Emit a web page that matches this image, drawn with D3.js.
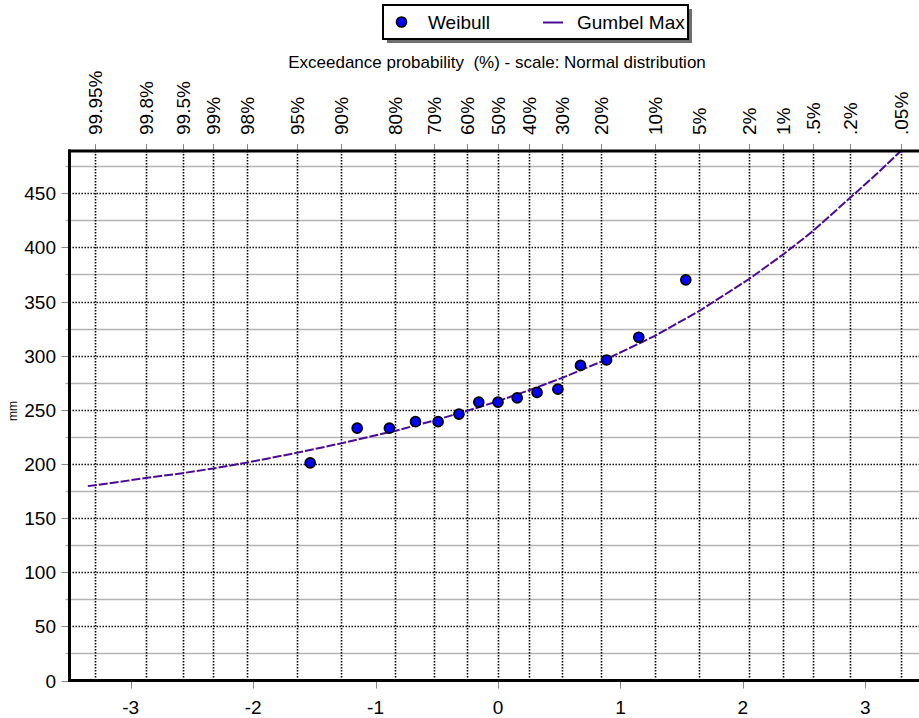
<!DOCTYPE html>
<html>
<head>
<meta charset="utf-8">
<script src="https://cdn.jsdelivr.net/npm/d3@7"></script>
<style>
  html, body { margin: 0; padding: 0; background: #fff; }
  svg { display: block; font-family: Arial, "Liberation Sans", sans-serif; }
</style>
</head>
<body>
<svg id="chart" width="919" height="718"></svg>
<script>
// ---- data ----
const probLabels = ["99.95%","99.8%","99.5%","99%","98%","95%","90%","80%","70%","60%","50%","40%","30%","20%","10%","5%","2%","1%",".5%",".2%",".05%"];
const probZ = [-3.2905,-2.8782,-2.5758,-2.3263,-2.0537,-1.6449,-1.2816,-0.8416,-0.5244,-0.2533,0,0.2533,0.5244,0.8416,1.2816,1.6449,2.0537,2.3263,2.5758,2.8782,3.2905];
const bottomTicks = [-3,-2,-1,0,1,2,3];
const yMajorTicks = [0,50,100,150,200,250,300,350,400,450];
const yMinorTicks = [25,75,125,175,225,275,325,375,425,475];

const weibullZ  = [-1.534,-1.150,-0.887,-0.674,-0.489,-0.319,-0.157,0,0.157,0.319,0.489,0.674,0.887,1.150,1.534];
const weibullMm = [201,233,233,239,239,246,257,257,261,266,269,291,296,317,370];

const gumbelZ  = [-3.35,-3.09,-2.878,-2.576,-2.326,-2.054,-1.645,-1.282,-0.842,-0.524,-0.253,0,0.253,0.524,0.842,1.282,1.645,2.054,2.326,2.576,2.878,3.09,3.29];
const gumbelMm = [179.5,183.5,187,191.5,195.8,201.2,210.2,219,230.5,240,249,258,268,279.5,294.4,318.3,341.3,371,393.2,415.4,446,467.5,489];

const legendItems = ["Weibull","Gumbel Max"];
const titleText = "Exceedance probability  (%) - scale: Normal distribution";
const yLabel = "mm";

// ---- layout ----
const svg = d3.select("#chart");
const L = 69.5, R = 926.5, T = 151, B = 680.5;
const x = d3.scaleLinear().domain([-3.5, 3.5]).range([L, R]);
const y = d3.scaleLinear().domain([0, 489]).range([B, T]);
const indigo = "#4b0a96";

svg.append("defs").append("clipPath").attr("id","clip")
  .append("rect").attr("x", L).attr("y", T).attr("width", R - L).attr("height", B - T);

const plot = svg.append("g");

// minor horizontal gray lines
plot.selectAll("line.minor").data(yMinorTicks).join("line")
  .attr("x1", L - 4).attr("x2", R)
  .attr("y1", d => Math.round(y(d)) + 0.5).attr("y2", d => Math.round(y(d)) + 0.5)
  .attr("stroke", "#b4b4b4").attr("stroke-width", 1.5);

// major dotted horizontal lines
plot.selectAll("line.major").data(yMajorTicks.filter(d => d > 0)).join("line")
  .attr("x1", L).attr("x2", R)
  .attr("y1", d => Math.round(y(d)) + 0.5).attr("y2", d => Math.round(y(d)) + 0.5)
  .attr("stroke", "#000").attr("stroke-width", 1.6).attr("stroke-dasharray", "1.4,1.6");

// vertical dotted lines at probability positions
plot.selectAll("line.vgrid").data(probZ).join("line")
  .attr("x1", d => Math.round(x(d)) + 0.5).attr("x2", d => Math.round(x(d)) + 0.5)
  .attr("y1", T).attr("y2", B)
  .attr("stroke", "#000").attr("stroke-width", 1.6).attr("stroke-dasharray", "1.4,1.6");

// top tick marks
plot.selectAll("line.ttick").data(probZ).join("line")
  .attr("x1", d => Math.round(x(d)) + 0.5).attr("x2", d => Math.round(x(d)) + 0.5)
  .attr("y1", T - 7).attr("y2", T)
  .attr("stroke", "#888").attr("stroke-width", 1);

// top labels
svg.selectAll("text.plab").data(probZ).join("text")
  .attr("transform", d => `translate(${x(d) + 7},135) rotate(-90)`)
  .attr("text-anchor", "start")
  .attr("font-size", 19).attr("fill", "#000")
  .text((d, i) => probLabels[i]);

// bottom ticks & labels
svg.selectAll("line.btick").data(bottomTicks).join("line")
  .attr("x1", d => Math.round(x(d)) + 0.5).attr("x2", d => Math.round(x(d)) + 0.5)
  .attr("y1", B).attr("y2", B + 8)
  .attr("stroke", "#888").attr("stroke-width", 1);
svg.selectAll("text.blab").data(bottomTicks).join("text")
  .attr("x", d => x(d)).attr("y", 714)
  .attr("text-anchor", "middle").attr("font-size", 19)
  .text(d => d);

// left ticks & labels
svg.selectAll("line.ltick").data(yMajorTicks).join("line")
  .attr("x1", L - 8).attr("x2", L)
  .attr("y1", d => Math.round(y(d)) + 0.5).attr("y2", d => Math.round(y(d)) + 0.5)
  .attr("stroke", "#888").attr("stroke-width", 1);
svg.selectAll("text.ylab").data(yMajorTicks).join("text")
  .attr("x", 56).attr("y", d => y(d) + 7)
  .attr("text-anchor", "end").attr("font-size", 19)
  .text(d => d);

// y axis title
svg.append("text")
  .attr("transform", "translate(17,411) rotate(-90)")
  .attr("text-anchor", "middle").attr("font-size", 12)
  .text(yLabel);

// Gumbel curve
const lineGen = d3.line().x((d, i) => x(gumbelZ[i])).y(d => y(d));
plot.append("path").datum(gumbelMm)
  .attr("clip-path", "url(#clip)")
  .attr("d", lineGen)
  .attr("fill", "none").attr("stroke", indigo).attr("stroke-width", 2)
  .attr("stroke-dasharray", "9,2");

// Weibull points
plot.selectAll("circle.pt").data(weibullMm).join("circle")
  .attr("cx", (d, i) => x(weibullZ[i])).attr("cy", d => y(d))
  .attr("r", 5).attr("fill", "#0000ff").attr("stroke", "#000").attr("stroke-width", 1.7);

// frame
svg.append("line").attr("x1", L).attr("x2", L).attr("y1", T - 1.5).attr("y2", B + 1.5)
  .attr("stroke", "#000").attr("stroke-width", 3);
svg.append("line").attr("x1", L - 1.5).attr("x2", R).attr("y1", T).attr("y2", T)
  .attr("stroke", "#000").attr("stroke-width", 3);
svg.append("line").attr("x1", L - 1.5).attr("x2", R).attr("y1", B).attr("y2", B)
  .attr("stroke", "#000").attr("stroke-width", 3);

// title
svg.append("text").attr("x", 497).attr("y", 68)
  .attr("text-anchor", "middle").attr("font-size", 17)
  .style("white-space", "pre")
  .text(titleText);

// legend
const lg = svg.append("g");
lg.append("rect").attr("x", 387).attr("y", 9).attr("width", 305).attr("height", 34).attr("fill", "#6e6e6e");
lg.append("rect").attr("x", 383).attr("y", 5).attr("width", 305).attr("height", 34)
  .attr("fill", "#fff").attr("stroke", "#000").attr("stroke-width", 2);
lg.append("circle").attr("cx", 401.5).attr("cy", 22).attr("r", 5)
  .attr("fill", "#0000ff").attr("stroke", "#000").attr("stroke-width", 1.7);
lg.append("text").attr("x", 428).attr("y", 29).attr("font-size", 19).text(legendItems[0]);
lg.append("line").attr("x1", 543).attr("x2", 563).attr("y1", 22.5).attr("y2", 22.5)
  .attr("stroke", indigo).attr("stroke-width", 2);
lg.append("text").attr("x", 577).attr("y", 29).attr("font-size", 19).text(legendItems[1]);
</script>
</body>
</html>
